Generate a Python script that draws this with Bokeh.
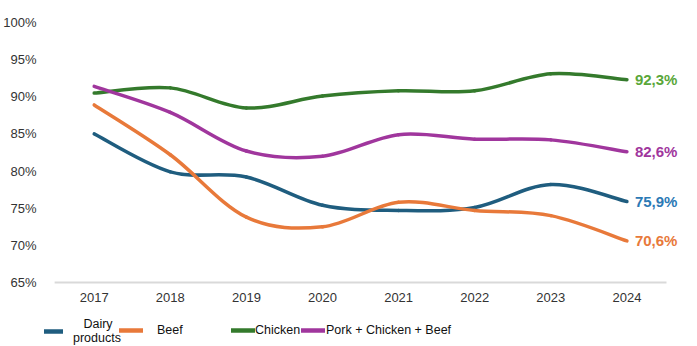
from bokeh.plotting import figure
from bokeh.models import Legend, LegendItem, Range1d, FixedTicker, ColumnDataSource
from bokeh.core.properties import value
from bokeh.embed import file_html
from bokeh.resources import INLINE

years = [2017, 2018, 2019, 2020, 2021, 2022, 2023, 2024]
dairy = [85.0, 79.9, 79.2, 75.4, 74.7, 75.1, 78.2, 75.9]
beef = [88.9, 82.2, 73.8, 72.5, 75.8, 74.7, 74.0, 70.6]
chicken = [90.5, 91.2, 88.5, 90.1, 90.8, 90.8, 93.1, 92.3]
pork = [91.4, 87.9, 82.7, 82.0, 84.9, 84.3, 84.2, 82.6]
end_labels = ["75,9%", "70,6%", "92,3%", "82,6%"]
names = ["\u00a0\u00a0\u00a0Dairy\nproducts", "Beef", "Chicken", "Pork + Chicken + Beef"]
year_labels = [str(y) for y in years]
y_ticks = [65, 70, 75, 80, 85, 90, 95, 100]

series = [dairy, beef, chicken, pork]
line_colors = ["#1f5d7f", "#e8793a", "#347a2c", "#a0369d"]
text_colors = ["#2b79b5", "#e8793a", "#5aa73a", "#a0369d"]

FONT = "'Liberation Sans', Arial, sans-serif"

# layout constants (pixels-per-unit derived from reference)
X_PAD = 0.52
PX_PER_YEAR = 76.57
PX_PER_PCT = 7.43
FRAME_LEFT = 40
Y_MIN, Y_MAX = y_ticks[0], y_ticks[-1]
x_start = years[0] - 50 / PX_PER_YEAR
x_end = x_start + (697 - FRAME_LEFT) / PX_PER_YEAR
y_start = Y_MIN - 64 / PX_PER_PCT

p = figure(width=697, height=346, output_backend="svg", toolbar_location=None,
           x_range=Range1d(x_start, x_end), y_range=Range1d(y_start, Y_MAX),
           min_border_left=FRAME_LEFT, min_border_right=0, min_border_top=22, min_border_bottom=0)
p.outline_line_color = None
p.xgrid.grid_line_color = None
p.ygrid.grid_line_color = None
p.background_fill_color = "white"
p.border_fill_color = "white"

p.xaxis.visible = False
p.yaxis.ticker = FixedTicker(ticks=y_ticks)
p.yaxis.major_label_overrides = {t: f"{t}%" for t in y_ticks}
ax = p.yaxis[0]
ax.major_tick_line_color = None
ax.minor_tick_line_color = None
ax.major_label_text_font = FONT
ax.major_label_text_font_size = "13px"
ax.major_label_text_color = "#333333"
ax.axis_line_color = None
ax.major_label_standoff = 2

# x axis baseline and tick labels
p.segment(x0=[years[0] - X_PAD], x1=[years[-1] + X_PAD], y0=[Y_MIN], y1=[Y_MIN],
          line_color="#d9d9d9", line_width=2)
p.text(x=years, y=[Y_MIN] * len(years), text=year_labels, y_offset=10,
       text_align="center", text_baseline="top", text_font=value(FONT),
       text_font_size="13px", text_color="#333333")


def catmull_segments(xs, ys):
    n = len(xs)
    d = dict(x0=[], y0=[], x1=[], y1=[], cx0=[], cy0=[], cx1=[], cy1=[])
    for i in range(n - 1):
        xm, ym = (xs[i - 1], ys[i - 1]) if i > 0 else (xs[i], ys[i])
        xp, yp = (xs[i + 2], ys[i + 2]) if i + 2 < n else (xs[i + 1], ys[i + 1])
        d["x0"].append(xs[i]); d["y0"].append(ys[i])
        d["x1"].append(xs[i + 1]); d["y1"].append(ys[i + 1])
        d["cx0"].append(xs[i] + (xs[i + 1] - xm) / 6.0)
        d["cy0"].append(ys[i] + (ys[i + 1] - ym) / 6.0)
        d["cx1"].append(xs[i + 1] - (xp - xs[i]) / 6.0)
        d["cy1"].append(ys[i + 1] - (yp - ys[i]) / 6.0)
    return ColumnDataSource(d)


legend_renderers = []
for vals, lc, tc, lab in zip(series, line_colors, text_colors, end_labels):
    src = catmull_segments(years, vals)
    p.bezier(x0="x0", y0="y0", x1="x1", y1="y1", cx0="cx0", cy0="cy0", cx1="cx1", cy1="cy1",
             source=src, line_color=lc, line_width=3.5, line_cap="round")
    p.text(x=[years[-1]], y=[vals[-1]], text=[lab], x_offset=8, text_baseline="middle",
           text_align="left", text_color=tc, text_font=value(FONT),
           text_font_size="15px", text_font_style="bold")
    # single-point line (draws nothing on the plot) used as the legend swatch
    r = p.line(x=years[-1:], y=vals[-1:], line_color=lc, line_width=4.5, line_cap="round")
    legend_renderers.append(r)

# legends (screen offsets relative to frame bottom-left)
positions = [(-5, 1), (75, 9), (187, 9), (257, 9)]
standoffs = [10, 14, 0, 1]
for r, name, pos, so in zip(legend_renderers, names, positions, standoffs):
    lg = Legend(items=[LegendItem(label=name, renderers=[r])], location=pos,
                orientation="horizontal", padding=0, margin=0, spacing=0,
                glyph_width=24, glyph_height=12, label_standoff=so,
                border_line_color=None, background_fill_alpha=0,
                label_text_font=FONT, label_text_font_size="12.5px",
                label_text_color="#111111",
                label_text_line_height=1.25)
    p.add_layout(lg, "center")

open("out.html", "w").write(file_html(p, INLINE))
